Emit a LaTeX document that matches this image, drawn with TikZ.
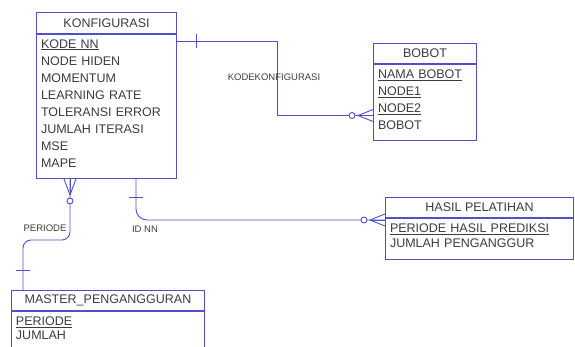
\documentclass[tikz,border=0pt]{standalone}
\usepackage{fontspec}
\setmainfont{Liberation Sans}
\usetikzlibrary{positioning}
\definecolor{erblue}{RGB}{80,80,200}
\definecolor{ertext}{RGB}{60,60,60}
\tikzset{
  enthead/.style={draw=erblue, line width=1pt, inner sep=0pt, text=ertext,
    font=\fontsize{12.5}{15}\selectfont},
  entbody/.style={draw=erblue, line width=1pt, align=left, inner xsep=4.5pt,
    inner ysep=2pt, text=ertext, font=\fontsize{12.5}{#1}\selectfont,
    execute at end node={\rule[-6pt]{0pt}{6pt}}},
  rel/.style={draw=erblue, line width=0.9pt},
  rellabel/.style={text=ertext, font=\fontsize{9.5}{11}\selectfont}
}
\begin{document}
\begin{tikzpicture}[x=1pt,y=-1pt]
\useasboundingbox (0,0) rectangle (575,347);
% entities
\node[enthead, anchor=north west, minimum width=140, minimum height=21] (konfhead) at (36,12) {KONFIGURASI};
\node[entbody={17.1}, text width=131pt, minimum height=144pt, below=0pt of konfhead] (konfbody)
  {\underline{KODE NN}\\NODE HIDEN\\MOMENTUM\\LEARNING RATE\\TOLERANSI ERROR\\JUMLAH ITERASI\\MSE\\MAPE};
\node[enthead, anchor=north west, minimum width=103, minimum height=20] (bobothead) at (373,43) {BOBOT};
\node[entbody={16.8}, text width=94pt, minimum height=76pt, below=0pt of bobothead] (bobotbody)
  {\underline{NAMA BOBOT}\\\underline{NODE1}\\\underline{NODE2}\\BOBOT};
\node[enthead, anchor=north west, minimum width=188, minimum height=20] (hasilhead) at (385,197) {HASIL PELATIHAN};
\node[entbody={15}, text width=179pt, minimum height=41pt, below=0pt of hasilhead] (hasilbody)
  {\underline{PERIODE HASIL PREDIKSI}\\JUMLAH PENGANGGUR};
\node[enthead, anchor=north west, minimum width=193, minimum height=20] (masterhead) at (11,290) {MASTER\_PENGANGGURAN};
\node[entbody={14}, text width=184pt, minimum height=40pt, below=0pt of masterhead] (masterbody)
  {\underline{PERIODE}\\JUMLAH};
% KONFIGURASI - BOBOT
\coordinate (bobotin) at ([yshift=-13pt]bobotbody.west);
\draw[rel] ([yshift=-7pt]konfhead.south east) -- ++(100,0) |- (bobotin);
\draw[rel] ([xshift=19pt]konfhead.south east) -- ++(0,14);
\foreach \d in {-6,0,6}
  \draw[rel] ([xshift=-15pt]bobotin) -- ([yshift=\d pt]bobotin);
\draw[rel, fill=white] ([xshift=-21pt]bobotin) circle (3pt);
\node[rellabel] (lkode) at (274,77) {KODEKONFIGURASI};
% KONFIGURASI - MASTER_PENGANGGURAN
\coordinate (konfper) at ([xshift=34pt]konfbody.south west);
\draw[rel, rounded corners=8pt] (konfper) -- ++(0,61) -| ([xshift=12pt]masterhead.north west);
\foreach \d in {-6,0,6}
  \draw[rel] ([yshift=-16pt]konfper) -- ([xshift=\d pt]konfper);
\draw[rel, fill=white] ([yshift=-22pt]konfper) circle (3pt);
\draw[rel] ([xshift=5pt,yshift=20pt]masterhead.north west) -- ++(14,0);
\node[rellabel] (lper) at (45,228) {PERIODE};
% KONFIGURASI - HASIL PELATIHAN
\coordinate (konfid) at ([xshift=100pt]konfbody.south west);
\coordinate (hasilin) at ([yshift=-2pt]hasilhead.south west);
\draw[rel, rounded corners=11pt] (konfid) |- (hasilin);
\draw[rel] ([xshift=-7pt,yshift=-18pt]konfid) -- ++(14,0);
\foreach \d in {-6,0,6}
  \draw[rel] ([xshift=-15pt]hasilin) -- ([yshift=\d pt]hasilin);
\draw[rel, fill=white] ([xshift=-21pt]hasilin) circle (3pt);
\node[rellabel] (lid) at (145,229) {ID NN};
\end{tikzpicture}
\end{document}
